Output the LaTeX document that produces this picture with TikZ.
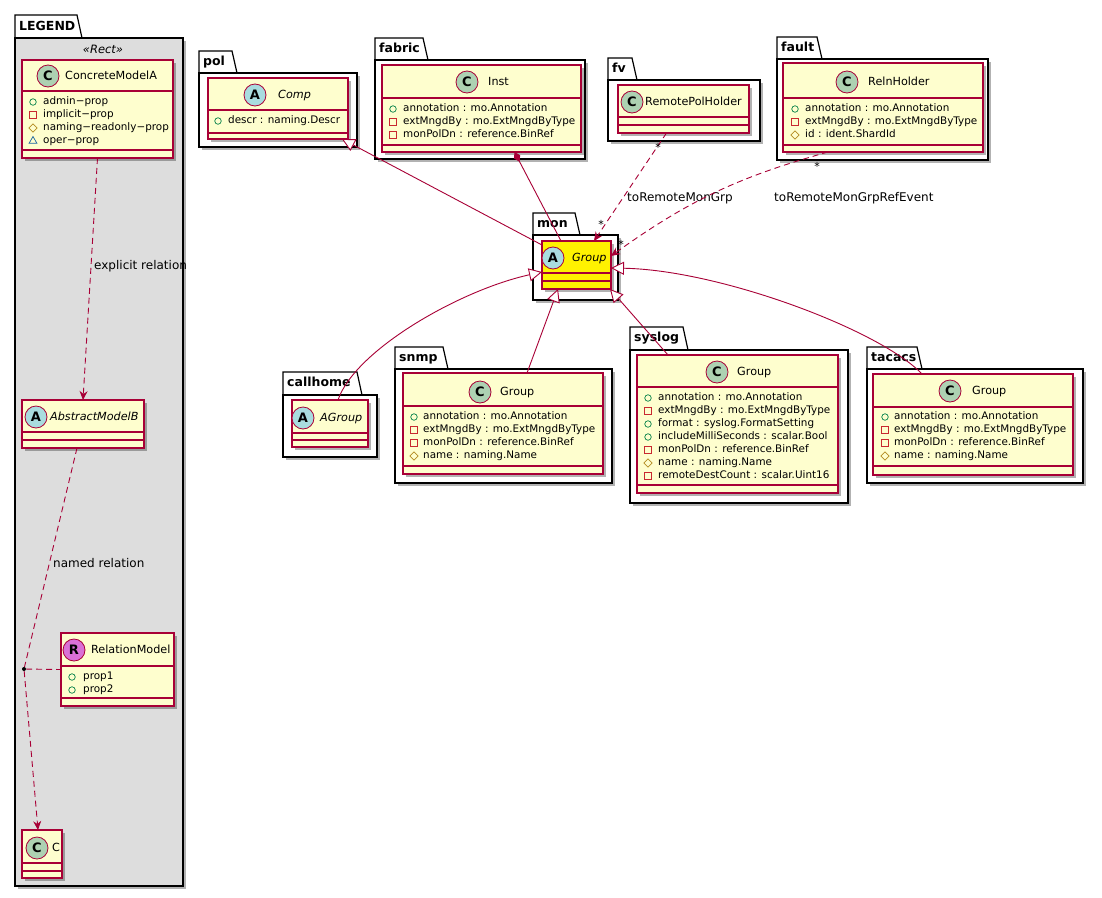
\documentclass[tikz,border=0pt]{standalone}
\usepackage{fontspec}
\setmainfont{DejaVu Sans}
\usepackage{tikz}
\usetikzlibrary{arrows.meta,calc,shapes.geometric,shadows}

\definecolor{umlred}{HTML}{A80036}
\definecolor{umlfill}{HTML}{FEFECE}
\definecolor{cgreen}{HTML}{ADD1B2}
\definecolor{ablue}{HTML}{A9DCDF}
\definecolor{rpink}{HTML}{DA70D6}
\definecolor{legendgray}{HTML}{DDDDDD}
\definecolor{pubgreen}{HTML}{038048}
\definecolor{privred}{HTML}{C82930}
\definecolor{protgold}{HTML}{B38D22}
\definecolor{pkgblue}{HTML}{1963A0}

\begin{document}
\begin{tikzpicture}[
  x=1pt, y=-1pt,
  umlshadow/.style={drop shadow={shadow xshift=3pt, shadow yshift=-3pt, opacity=.3, fill=black}},
  pkgtab/.style={draw=black, line width=1.2pt, fill=white},
  pkgbody/.style={draw=black, line width=1.2pt, fill=white, umlshadow},
  pkgname/.style={anchor=west, inner sep=0, text height=9pt, text depth=2.5pt, font=\fontsize{12.5}{14}\selectfont\bfseries},
  cls/.style={draw=umlred, line width=1.1pt, fill=umlfill, anchor=north west, inner sep=0, outer sep=0, umlshadow},
  divider/.style={draw=umlred, line width=1.1pt},
  badge/.style={circle, draw=umlred, line width=.8pt, minimum size=22pt, inner sep=0, font=\fontsize{13}{13}\selectfont\bfseries},
  cname/.style={anchor=west, inner sep=0, text height=8.4pt, text depth=2.4pt, font=\fontsize{11.2}{13}\selectfont},
  aname/.style={cname, font=\fontsize{11.2}{13}\selectfont\itshape},
  attr/.style={anchor=west, inner sep=0, text height=7.8pt, text depth=2.2pt, font=\fontsize{10.4}{12}\selectfont},
  pub/.style={circle, draw=pubgreen, line width=.7pt, minimum size=6.5pt, inner sep=0},
  priv/.style={rectangle, draw=privred, line width=.7pt, minimum size=6.5pt, inner sep=0},
  prot/.style={diamond, draw=protgold, line width=.7pt, minimum size=8.5pt, inner sep=0},
  pkgp/.style={regular polygon, regular polygon sides=3, draw=pkgblue, line width=.7pt, minimum size=9pt, inner sep=0},
  lbl/.style={anchor=west, inner sep=0, text height=9pt, text depth=2.5pt, font=\fontsize{12}{14}\selectfont},
  mult/.style={inner sep=0, font=\fontsize{11}{12}\selectfont},
  link/.style={draw=umlred, line width=.9pt},
  rel/.style={link, dash pattern=on 6pt off 4pt},
  dep/.style={rel, -{Stealth[length=9pt, width=8pt, inset=3pt]}},
  inh/.style={link, -{Triangle[length=13pt, width=13pt, fill=white]}},
  comps/.style={link, {Diamond[length=11pt, width=7pt]}-}
]
\fill[white] (0,0) rectangle (1102,897);
\useasboundingbox (0,0) rectangle (1102,897);

% legend package
\draw[pkgtab] (15,38) -- (15,15) -- (77,15) -- (82,38) -- cycle;
\draw[pkgbody, fill=legendgray] (15,38) rectangle (183,886);
\node[pkgname] (pkg-legend) at (19,27) {LEGEND};
\node[inner sep=0, font=\fontsize{11.5}{13}\selectfont\itshape] (rect-st) at (103,49) {«Rect»};

% packages
\foreach \lab/\xa/\ya/\xt/\yb/\xb/\yc in {pol/199/51/237/73/357/147, fabric/375/38/428/60/585/159,
  fv/608/58/637/80/760/141, fault/777/37/822/59/988/160, mon/533/213/580/235/618/300,
  callhome/283/372/362/395/377/457, snmp/395/347/448/369/612/483,
  syslog/630/327/688/350/848/503, tacacs/867/347/922/369/1083/483}
{
  \draw[pkgtab] (\xa,\yb) -- (\xa,\ya) -- (\xt-5,\ya) -- (\xt,\yb) -- cycle;
  \draw[pkgbody] (\xa,\yb) rectangle (\xb,\yc);
  \node[pkgname] (pkg-\lab) at (\xa+4,\ya+11.5) {\lab};
}

% legend classes
\node[cls, minimum width=151, minimum height=98] (cma) at (22,60) {};
\draw[divider] (22,91) -- (173,91) (22,150) -- (173,150);
\node[badge, fill=cgreen] (cma-b) at (48,76) {C};
\node[cname] (cma-n) at (65,76) {ConcreteModelA};
\foreach \v/\s [count=\i] in {pub/admin−prop, priv/implicit−prop, prot/naming−readonly−prop, pkgp/oper−prop}
{
  \node[\v] (cma-v\i) at (33,89+13*\i) {};
  \node[attr] (cma-a\i) at (43,89+13*\i) {\s};
}

\node[cls, minimum width=122, minimum height=48] (amb) at (22,400) {};
\draw[divider] (22,432) -- (144,432) (22,440) -- (144,440);
\node[badge, fill=ablue] (amb-b) at (36,417) {A};
\node[aname] (amb-n) at (50,417) {AbstractModelB};

\node[cls, minimum width=113, minimum height=73] (relm) at (61,633) {};
\draw[divider] (61,666) -- (174,666) (61,698) -- (174,698);
\node[badge, fill=rpink] (relm-b) at (74,650) {R};
\node[cname] (relm-n) at (91,650) {RelationModel};
\foreach \v/\s [count=\i] in {pub/prop1, pub/prop2}
{
  \node[\v] (relm-v\i) at (72,664+13*\i) {};
  \node[attr] (relm-a\i) at (83,664+13*\i) {\s};
}

\node[cls, minimum width=40, minimum height=48] (cc) at (22,830) {};
\draw[divider] (22,863) -- (62,863) (22,871) -- (62,871);
\node[badge, fill=cgreen] (cc-b) at (37,848) {C};
\node[cname] (cc-n) at (52,848) {C};

% top classes
\node[cls, minimum width=140, minimum height=61] (comp) at (208,78) {};
\draw[divider] (208,110) -- (348,110) (208,133) -- (348,133);
\node[badge, fill=ablue] (comp-b) at (255,95) {A};
\node[aname] (comp-n) at (278,95) {Comp};
\node[pub] (comp-v1) at (218,121) {};
\node[attr] (comp-a1) at (228,121) {descr : naming.Descr};

\node[cls, minimum width=199, minimum height=87] (inst) at (382,65) {};
\draw[divider] (382,98) -- (581,98) (382,145) -- (581,145);
\node[badge, fill=cgreen] (inst-b) at (467,82) {C};
\node[cname] (inst-n) at (488,82) {Inst};
\foreach \v/\s [count=\i] in {pub/annotation : mo.Annotation, priv/extMngdBy : mo.ExtMngdByType, priv/monPolDn : reference.BinRef}
{
  \node[\v] (inst-v\i) at (393,96+13*\i) {};
  \node[attr] (inst-a\i) at (403,96+13*\i) {\s};
}

\node[cls, minimum width=131, minimum height=48] (rph) at (618,85) {};
\draw[divider] (618,117) -- (749,117) (618,125) -- (749,125);
\node[badge, fill=cgreen] (rph-b) at (632,102) {C};
\node[cname] (rph-n) at (645,102) {RemotePolHolder};

\node[cls, minimum width=200, minimum height=89] (rnh) at (783,63) {};
\draw[divider] (783,98) -- (983,98) (783,145) -- (983,145);
\node[badge, fill=cgreen] (rnh-b) at (847,82) {C};
\node[cname] (rnh-n) at (868,82) {RelnHolder};
\foreach \v/\s [count=\i] in {pub/annotation : mo.Annotation, priv/extMngdBy : mo.ExtMngdByType, prot/id : ident.ShardId}
{
  \node[\v] (rnh-v\i) at (795,96+13*\i) {};
  \node[attr] (rnh-a\i) at (805,96+13*\i) {\s};
}

% mon
\node[cls, fill=yellow, minimum width=69, minimum height=48] (grp) at (542,241) {};
\draw[divider] (542,273) -- (611,273) (542,281) -- (611,281);
\node[badge, fill=ablue] (grp-b) at (553,258) {A};
\node[aname] (grp-n) at (572,258) {Group};

% bottom classes
\node[cls, minimum width=76, minimum height=47] (agrp) at (292,400) {};
\draw[divider] (292,433) -- (368,433) (292,440) -- (368,440);
\node[badge, fill=ablue] (agrp-b) at (303,418) {A};
\node[aname] (agrp-n) at (320,418) {AGroup};

\node[cls, minimum width=200, minimum height=101] (snmpg) at (403,373) {};
\draw[divider] (403,406) -- (603,406) (403,466) -- (603,466);
\node[badge, fill=cgreen] (snmpg-b) at (480,392) {C};
\node[cname] (snmpg-n) at (500,392) {Group};
\foreach \v/\s [count=\i] in {pub/annotation : mo.Annotation, priv/extMngdBy : mo.ExtMngdByType, priv/monPolDn : reference.BinRef, prot/name : naming.Name}
{
  \node[\v] (snmpg-v\i) at (414,404+13*\i) {};
  \node[attr] (snmpg-a\i) at (423,404+13*\i) {\s};
}

\node[cls, minimum width=201, minimum height=138] (sysg) at (637,355) {};
\draw[divider] (637,387) -- (838,387) (637,485) -- (838,485);
\node[badge, fill=cgreen] (sysg-b) at (717,372) {C};
\node[cname] (sysg-n) at (737,372) {Group};
\foreach \v/\s [count=\i] in {pub/annotation : mo.Annotation, priv/extMngdBy : mo.ExtMngdByType, pub/format : syslog.FormatSetting, pub/includeMilliSeconds : scalar.Bool, priv/monPolDn : reference.BinRef, prot/name : naming.Name, priv/remoteDestCount : scalar.Uint16}
{
  \node[\v] (sysg-v\i) at (648,385+13*\i) {};
  \node[attr] (sysg-a\i) at (658,385+13*\i) {\s};
}

\node[cls, minimum width=200, minimum height=101] (tacg) at (873,374) {};
\draw[divider] (873,407) -- (1073,407) (873,466) -- (1073,466);
\node[badge, fill=cgreen] (tacg-b) at (950,391) {C};
\node[cname] (tacg-n) at (972,391) {Group};
\foreach \v/\s [count=\i] in {pub/annotation : mo.Annotation, priv/extMngdBy : mo.ExtMngdByType, priv/monPolDn : reference.BinRef, prot/name : naming.Name}
{
  \node[\v] (tacg-v\i) at (885,404+13*\i) {};
  \node[attr] (tacg-a\i) at (894,404+13*\i) {\s};
}

% legend relations
\node[circle, fill=black, inner sep=0, minimum size=4pt] (rdot) at (24,669) {};
\draw[dep] (cma.south) -- (amb.north);
\node[lbl] (l-expl) at (94,266) {explicit relation};
\draw[rel] ($(amb.south)+(-6,0)$) -- (rdot);
\node[lbl] (l-named) at (53,564) {named relation};
\draw[rel] (rdot) -- (relm.west);
\draw[dep] (rdot) -- ($(cc.north)+(-4,0)$);

% relations to mon Group
\draw[inh] ($(grp.north west)+(0,4)$) -- ($(comp.south east)+(-6,0)$);
\draw[comps] ($(inst.south)+(33,0)$) -- ($(grp.north west)+(19,0)$);
\draw[dep] ($(rph.south)+(-17,0)$) -- ($(grp.north east)+(-17,0)$);
\node[mult] (m-rph) at (658,147) {*};
\node[mult] (m-grp1) at (601,224) {*};
\node[lbl] (l-rmg) at (627,198) {toRemoteMonGrp};
\draw[dep] ($(rnh.south)+(-55,0)$) to[bend right=10] ($(grp.east)+(0,-9)$);
\node[mult] (m-rnh) at (817,166) {*};
\node[mult] (m-grp2) at (621,244) {*};
\node[lbl] (l-rmgre) at (774,198) {toRemoteMonGrpRefEvent};

\draw[inh] ($(agrp.north)+(8,0)$) .. controls (355,350) and (460,290) .. ($(grp.west)+(0,7)$);
\draw[inh] ($(snmpg.north)+(24,0)$) -- ($(grp.south west)+(16,0)$);
\draw[inh] ($(sysg.north west)+(31,0)$) -- ($(grp.south east)+(-1,0)$);
\draw[inh] ($(tacg.north west)+(49,0)$) .. controls (880,330) and (720,270) .. ($(grp.east)+(0,3)$);
\end{tikzpicture}
\end{document}
